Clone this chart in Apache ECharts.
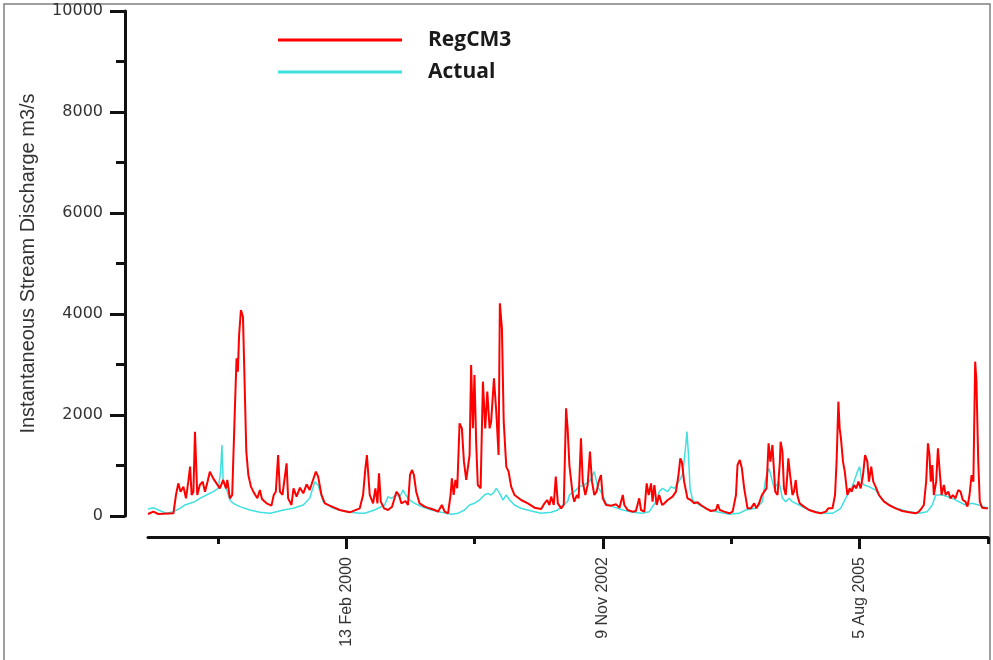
<!DOCTYPE html>
<html>
<head>
<meta charset="utf-8">
<script src="https://cdn.jsdelivr.net/npm/echarts@6/dist/echarts.min.js"></script>
<style>
html,body{margin:0;padding:0;background:#fff;}
#chart{width:993px;height:660px;}
</style>
</head>
<body>
<div id="chart"></div>
<script>
// x values are days since 1998-01-01
const startDate = '1998-01-01';
const regcm3 = [
[0,40],[21,86],[40,40],[99,53],[109,416],[118,647],[127,482],[138,581],[148,350],[157,680],[164,977],[170,416],[177,482],[183,1670],[192,416],[202,614],[213,680],[222,482],[232,680],[241,878],[254,746],[267,647],[280,548],[293,713],[304,548],[309,713],[319,350],[328,416],[339,2198],[345,3122],[350,2858],[355,3584],[362,4079],[370,3947],[376,2726],[383,1274],[391,812],[401,581],[414,449],[426,350],[436,515],[444,337],[462,251],[481,205],[490,416],[498,482],[507,1208],[514,482],[524,416],[540,1043],[546,350],[559,218],[567,548],[579,383],[592,561],[605,449],[618,627],[630,515],[643,713],[654,878],[663,779],[676,416],[689,251],[708,205],[747,119],[786,73],
[825,152],[838,416],[847,944],[853,1208],[864,416],[877,251],[886,548],[894,251],[900,845],[907,284],[920,152],[935,119],[951,185],[968,482],[978,416],[987,251],[1003,297],[1013,218],[1021,812],[1029,911],[1036,812],[1045,482],[1058,251],[1078,185],[1097,152],[1117,119],[1130,86],[1145,218],[1156,86],[1169,53],[1179,416],[1184,746],[1191,416],[1198,713],[1205,548],[1214,1835],[1223,1736],[1231,1076],[1240,713],[1246,944],[1253,1208],[1259,2990],[1266,1736],[1272,2792],[1279,1406],[1285,614],[1296,548],[1305,2660],[1314,1736],[1322,2462],[1331,1736],[1337,1868],[1348,2726],[1357,2066],[1366,1208],[1371,4211],[1379,3716],[1386,1868],[1396,977],[1405,878],[1415,581],[1428,416],[1454,317],[1480,251],[1506,165],[1532,139],[1545,251],[1555,317],[1564,218],[1571,383],[1581,218],[1589,779],[1597,251],[1610,152],[1620,218],[1629,2132],[1635,1736],
[1642,1000],[1655,416],[1661,284],[1671,416],[1678,350],[1687,1538],[1694,680],[1704,416],[1713,614],[1722,1274],[1730,680],[1739,416],[1748,482],[1756,680],[1765,812],[1772,350],[1785,218],[1804,205],[1824,231],[1837,165],[1850,416],[1856,218],[1869,119],[1888,86],[1901,99],[1914,350],[1921,119],[1934,86],[1943,647],[1951,416],[1960,647],[1966,284],[1973,614],[1982,218],[1992,416],[2003,218],[2012,251],[2025,317],[2044,383],[2057,482],[2067,812],[2074,1142],[2080,1076],[2089,680],[2102,350],[2115,317],[2128,251],[2141,271],[2154,218],[2174,152],[2193,99],[2213,119],[2220,231],[2228,119],[2245,86],[2265,53],[2278,86],[2291,416],[2297,1010],[2306,1109],[2314,944],[2323,548],[2336,152],[2349,152],[2362,251],[2371,152],[2381,251],[2392,416],[2401,482],[2410,548],[2418,1439],[2425,1076],[2433,1406],[2444,482],[2453,416],[2462,1076],
[2465,1472],[2472,1274],[2478,548],[2485,416],[2491,812],[2495,1142],[2502,812],[2511,416],[2517,482],[2524,713],[2530,416],[2539,251],[2556,185],[2576,119],[2602,73],[2621,53],[2641,86],[2651,152],[2667,152],[2677,416],[2683,1076],[2690,2264],[2695,1736],[2700,1538],[2708,1076],[2715,878],[2725,416],[2734,548],[2742,482],[2751,614],[2760,548],[2768,680],[2777,548],[2786,812],[2794,1208],[2803,1076],[2809,680],[2818,977],[2826,680],[2835,581],[2842,548],[2848,416],[2868,284],[2887,218],[2913,152],[2939,99],[2965,73],[2991,53],[3004,86],[3014,152],[3023,218],[3032,680],[3039,1439],[3045,1208],[3050,680],[3056,1010],[3062,416],[3071,680],[3078,1340],[3084,944],[3092,416],[3101,614],[3108,416],[3118,482],[3127,350],[3136,416],[3146,350],[3157,515],[3166,482],[3175,317],[3185,284],[3193,185],[3201,416],[3209,812],[3216,680],[3223,3056],[3228,2660],[3235,1076],[3241,284],[3250,165],[3263,152],[3273,152]
];
const actual = [
[0,140],[21,165],[40,119],[73,53],[99,86],[125,152],[144,218],[164,251],[183,284],[202,350],[228,416],[254,482],[274,548],[283,878],[288,1406],[293,680],[309,482],[319,317],[332,251],[358,185],[397,119],[436,73],[475,53],[501,86],[527,119],[566,152],[605,218],[630,350],[650,680],[663,614],[682,284],[721,152],[773,86],[825,53],
[844,53],[883,119],[922,218],[935,383],[948,350],[968,416],[981,383],[994,515],[1000,449],[1019,317],[1039,251],[1065,185],[1104,119],[1143,73],[1182,33],[1208,53],[1233,119],[1253,218],[1272,251],[1292,317],[1311,416],[1324,449],[1337,416],[1350,482],[1357,548],[1370,449],[1383,317],[1396,416],[1409,317],[1428,218],[1454,152],[1493,99],[1532,53],[1571,73],[1597,119],[1616,218],[1635,284],
[1642,416],[1661,482],[1681,581],[1700,614],[1720,680],[1739,878],[1752,581],[1765,482],[1785,251],[1811,185],[1850,119],[1888,73],[1927,53],[1953,86],[1979,284],[1992,482],[2005,548],[2025,482],[2038,581],[2051,548],[2064,647],[2083,812],[2093,1274],[2100,1670],[2106,1208],[2112,548],[2122,317],[2148,218],[2187,119],[2226,73],[2265,33],[2303,53],[2329,119],[2368,152],[2394,284],[2407,746],[2420,944],[2440,548],[2459,680],
[2472,350],[2485,284],[2498,350],[2511,284],[2537,218],[2576,119],[2628,53],[2667,53],[2679,86],[2699,152],[2712,284],[2725,416],[2738,515],[2751,680],[2764,878],[2773,977],[2781,680],[2790,614],[2809,581],[2835,515],[2861,317],[2900,185],[2952,99],[3004,53],[3036,86],[3056,218],[3069,416],[3095,416],[3134,350],[3185,218],[3211,251],[3237,218],[3273,152]
];
const labelTickDays = [773, 1773, 2773];
const tickLabels = ['13 Feb 2000', '9 Nov 2002', '5 Aug 2005'];
const minorTickDays = [273, 1273, 2273, 3273];
const seriesNames = ['RegCM3', 'Actual'];
const yTitle = 'Instantaneous Stream Discharge m3/s';

const chart = echarts.init(document.getElementById('chart'), null, {renderer: 'canvas'});
const axisColor = '#111';
const labelFor = v => {
  const i = labelTickDays.indexOf(v);
  return i >= 0 ? tickLabels[i] : '';
};
chart.setOption({
  animation: false,
  backgroundColor: '#fff',
  graphic: [{
    type: 'rect', silent: true, z: -1,
    shape: {x: 4, y: 4, width: 986, height: 680},
    style: {fill: 'none', stroke: '#808080', lineWidth: 1.5}
  }],
  legend: {
    data: seriesNames,
    orient: 'vertical',
    left: 273, top: 24,
    itemWidth: 124, itemHeight: 3, itemGap: 10,
    icon: 'rect',
    textStyle: {fontFamily: 'Open Sans', fontWeight: 'bold', fontSize: 21, color: '#1a1a1a', lineHeight: 22, padding: [0, 0, 0, 21]}
  },
  grid: {left: 148, right: 5, top: 11, bottom: 144, outerBoundsMode: 'none'},
  xAxis: [{
    type: 'value', min: 0, max: 3273, position: 'bottom', offset: 21,
    axisLine: {show: true, onZero: false, lineStyle: {color: axisColor, width: 3}},
    axisTick: {show: true, customValues: labelTickDays, length: 12, lineStyle: {color: axisColor, width: 3}},
    axisLabel: {customValues: labelTickDays, formatter: labelFor, rotate: 90, margin: 20,
      fontFamily: 'Liberation Sans', fontSize: 16, color: '#333'},
    splitLine: {show: false}
  }, {
    type: 'value', min: 0, max: 3273, position: 'bottom', offset: 21,
    axisLine: {show: false, onZero: false},
    axisTick: {show: true, customValues: minorTickDays, length: 7, lineStyle: {color: axisColor, width: 3}},
    axisLabel: {show: false},
    splitLine: {show: false}
  }],
  yAxis: {
    type: 'value', min: 0, max: 10000, interval: 2000, offset: 23,
    name: yTitle, nameLocation: 'middle', nameRotate: 90, nameGap: 87,
    nameTextStyle: {fontFamily: 'Liberation Sans', fontSize: 20, color: '#333'},
    axisLine: {show: true, onZero: false, lineStyle: {color: axisColor, width: 3}},
    axisTick: {show: true, length: 15, lineStyle: {color: axisColor, width: 3}},
    minorTick: {show: true, splitNumber: 2, length: 9, lineStyle: {color: axisColor, width: 3}},
    axisLabel: {margin: 22, fontFamily: 'DejaVu Sans', fontSize: 16, color: '#333', formatter: v => String(v)},
    splitLine: {show: false}
  },
  series: [{
    name: 'Actual', type: 'line', xAxisIndex: 0, data: actual,
    showSymbol: false, symbol: 'none', color: '#40e0e0',
    lineStyle: {color: '#40e0e0', width: 1.5}, z: 2
  }, {
    name: 'RegCM3', type: 'line', xAxisIndex: 0, data: regcm3,
    showSymbol: false, symbol: 'none', color: '#ff0000',
    lineStyle: {color: '#ff0000', width: 2}, z: 3
  }]
});
</script>
</body>
</html>
